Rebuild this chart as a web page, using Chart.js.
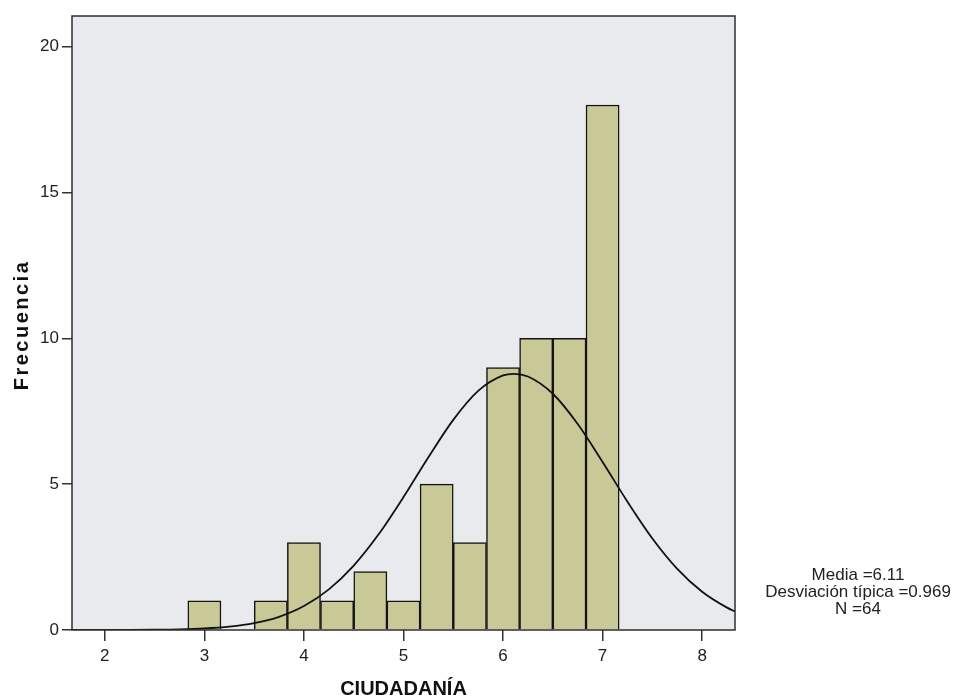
<!DOCTYPE html>
<html>
<head>
<meta charset="utf-8">
<title>CIUDADANÍA</title>
<script src="https://cdn.jsdelivr.net/npm/chart.js@4.4.1/dist/chart.umd.min.js"></script>
<style>
  body { margin: 0; background: #fff; }
  canvas { display: block; }
</style>
</head>
<body>
<canvas id="histo" width="956" height="699"></canvas>
<script>
// histogram bins (centres) and counts
const binCenters = [3.0, 3.333, 3.667, 4.0, 4.333, 4.667, 5.0, 5.333, 5.667, 6.0, 6.333, 6.667, 7.0];
const frequencies = [1, 0, 1, 3, 1, 2, 1, 5, 3, 9, 10, 10, 18];

// normal curve (Media 6.11, sd 0.969, N 64)
const curveX = [1.67, 1.75, 2.0, 2.25, 2.5, 2.75, 3.0, 3.25, 3.5, 3.75, 4.0, 4.25, 4.5, 4.75, 5.0,
                5.25, 5.5, 5.75, 6.0, 6.11, 6.25, 6.5, 6.75, 7.0, 7.25, 7.5, 7.75, 8.0, 8.25, 8.33];
const curveY = [0.0003, 0.0004, 0.0011, 0.0031, 0.0085, 0.0215, 0.051, 0.113, 0.234, 0.452, 0.820,
                1.392, 2.209, 3.280, 4.558, 5.924, 7.205, 8.197, 8.727, 8.783, 8.692, 8.100, 7.063,
                5.760, 4.397, 3.139, 2.097, 1.311, 0.767, 0.637];

const xTicks = [2, 3, 4, 5, 6, 7, 8];
const yTicks = [0, 5, 10, 15, 20];
const statsLines = ['Media =6.11', 'Desviación típica =0.969', 'N =64'];

const FONT = 'Arial, "Liberation Sans", sans-serif';

// plot background, frame and the extra texts
const decor = {
    id: 'decor',
    beforeDraw(chart) {
        const a = chart.chartArea, ctx = chart.ctx;
        ctx.save();
        ctx.fillStyle = '#e9eaed';
        ctx.fillRect(a.left, a.top, a.right - a.left, a.bottom - a.top);
        ctx.restore();
    },
    afterDraw(chart) {
        const a = chart.chartArea, ctx = chart.ctx;
        ctx.save();
        ctx.strokeStyle = '#2e2e2e';
        ctx.lineWidth = 1.5;
        ctx.strokeRect(a.left, a.top, a.right - a.left, a.bottom - a.top);

        // y title
        ctx.fillStyle = '#111';
        ctx.font = 'bold 20px ' + FONT;
        ctx.textAlign = 'center';
        ctx.textBaseline = 'middle';
        ctx.translate(22, 325);
        ctx.rotate(-Math.PI / 2);
        ctx.letterSpacing = '2.5px';
        ctx.fillText('Frecuencia', 0, 0);
        ctx.restore();

        // stats box
        ctx.save();
        ctx.fillStyle = '#222';
        ctx.font = '17px ' + FONT;
        ctx.textAlign = 'center';
        ctx.textBaseline = 'middle';
        statsLines.forEach(function(t, i) {
            ctx.fillText(t, 858, 575 + i * 17);
        });
        ctx.restore();
    }
};

var ctx1 = document.getElementById('histo');
var chart1 = new Chart(ctx1, {
    type: 'bar',
    data: {
        datasets: [
            {
                type: 'line',
                data: curveX.map(function(x, i) { return { x: x, y: curveY[i] }; }),
                borderColor: '#111',
                borderWidth: 1.8,
                pointRadius: 0,
                fill: false,
                cubicInterpolationMode: 'monotone',
                order: 0
            },
            {
                type: 'bar',
                data: binCenters.map(function(x, i) { return { x: x, y: frequencies[i] }; }),
                backgroundColor: '#c9c997',
                borderColor: '#141414',
                borderWidth: 1.5,
                barPercentage: 1,
                categoryPercentage: 1,
                order: 1
            }
        ]
    },
    options: {
        responsive: false,
        devicePixelRatio: 1,
        animation: false,
        layout: { padding: { left: 0, top: 16, right: 221, bottom: 0 } },
        plugins: { legend: { display: false }, tooltip: { enabled: false } },
        scales: {
            x: {
                type: 'linear',
                offset: false,
                min: 1.67,
                max: 8.33,
                afterBuildTicks: function(s) { s.ticks = xTicks.map(function(v) { return { value: v }; }); },
                afterFit: function(s) { s.height = 69; },
                grid: { offset: false, drawOnChartArea: false, tickLength: 11, color: '#333', lineWidth: 1.5 },
                border: { display: false },
                ticks: { color: '#222', font: { family: FONT, size: 17 }, padding: 5, maxRotation: 0, autoSkip: false },
                title: { display: true, text: 'CIUDADANÍA', color: '#111', font: { family: FONT, size: 20, weight: 'bold' }, padding: { top: 0, bottom: -2 } }
            },
            y: {
                min: 0,
                max: 21.05,
                afterBuildTicks: function(s) { s.ticks = yTicks.map(function(v) { return { value: v }; }); },
                afterFit: function(s) { s.width = 72; },
                grid: { drawOnChartArea: false, tickLength: 10, color: '#333', lineWidth: 1.5 },
                border: { display: false },
                ticks: { color: '#222', font: { family: FONT, size: 17 }, padding: 3 }
            }
        }
    },
    plugins: [decor]
});
</script>
</body>
</html>
